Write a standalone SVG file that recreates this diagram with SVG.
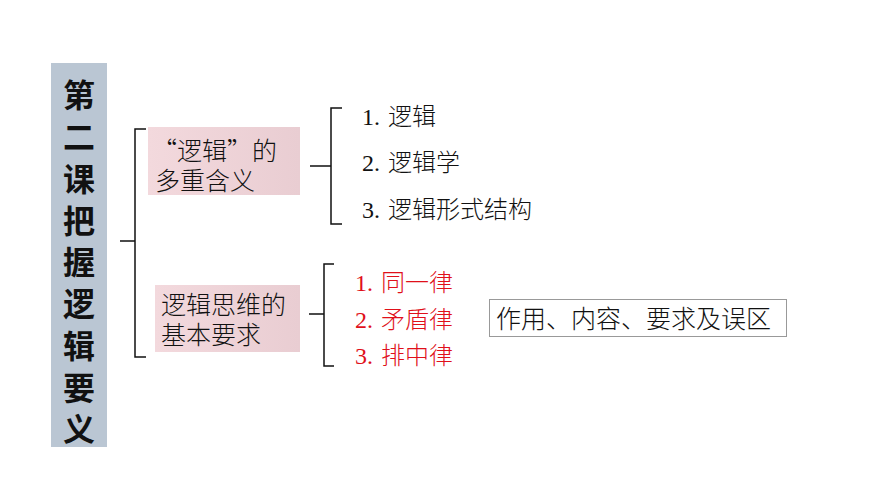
<svg xmlns="http://www.w3.org/2000/svg" width="870" height="489" viewBox="0 0 870 489">
<defs>
<linearGradient id="pk" x1="0" y1="0" x2="1" y2="0"><stop offset="0" stop-color="#f3d9dd"/><stop offset="1" stop-color="#e9cdd2"/></linearGradient>
<style>
text{font-family:"Liberation Serif","Noto Sans CJK SC",serif;fill:#111}
.s{font-family:"Noto Sans CJK SC",sans-serif;font-weight:300}
.t{font-size:32px;font-weight:bold;text-anchor:middle}
.b{font-size:25px}
.i{font-size:24px}
.r{fill:#e0101a}
.ln{fill:none;stroke:#111;stroke-width:1.5}
</style>
</defs>
<rect width="870" height="489" fill="#fff"/>
<g id="title"><rect x="51" y="63" width="56" height="384" fill="#bac6d3"/>
<text class="t" style="font-family:'Noto Sans CJK SC',sans-serif" x="79" y="107">第</text><text class="t" style="font-family:'Noto Sans CJK SC',sans-serif" x="79" y="149">二</text><text class="t" style="font-family:'Noto Sans CJK SC',sans-serif" x="79" y="191">课</text><text class="t" style="font-family:'Noto Sans CJK SC',sans-serif" x="79" y="233">把</text><text class="t" style="font-family:'Noto Sans CJK SC',sans-serif" x="79" y="274">握</text><text class="t" style="font-family:'Noto Sans CJK SC',sans-serif" x="79" y="316">逻</text><text class="t" style="font-family:'Noto Sans CJK SC',sans-serif" x="79" y="358">辑</text><text class="t" style="font-family:'Noto Sans CJK SC',sans-serif" x="79" y="400">要</text><text class="t" style="font-family:'Noto Sans CJK SC',sans-serif" x="79" y="441">义</text></g>
<g id="connectors">
<path class="ln" d="M146 129H135V357H146M120 241H135"/>
<path class="ln" d="M342 108H331V224H342M310 166H331"/>
<path class="ln" d="M334 264H324V366H334M309 314H324"/>
</g>
<g id="n1"><rect x="148" y="127" width="152" height="68" fill="url(#pk)"/><text class="b s" x="152" y="160">“逻辑”的</text><text class="b s" x="155" y="190">多重含义</text></g>
<g id="n2"><rect x="155" y="285" width="145" height="67" fill="url(#pk)"/><text class="b s" x="161" y="314">逻辑思维的</text><text class="b s" x="161" y="344">基本要求</text></g>
<g id="a1"><text class="i" x="362" y="125">1. <tspan class="s" x="388">逻辑</tspan></text></g>
<g id="a2"><text class="i" x="362" y="171">2. <tspan class="s" x="388">逻辑学</tspan></text></g>
<g id="a3"><text class="i" x="362" y="218">3. <tspan class="s" x="388">逻辑形式结构</tspan></text></g>
<g id="b1"><text class="i r" x="355" y="291">1. <tspan class="s r" x="381">同一律</tspan></text></g>
<g id="b2"><text class="i r" x="355" y="328">2. <tspan class="s r" x="381">矛盾律</tspan></text></g>
<g id="b3"><text class="i r" x="355" y="364">3. <tspan class="s r" x="381">排中律</tspan></text></g>
<g id="n3"><rect x="489.5" y="299.5" width="297" height="37" fill="#fff" stroke="#999"/><text class="b s" x="496" y="328">作用、内容、要求及误区</text></g>
</svg>
